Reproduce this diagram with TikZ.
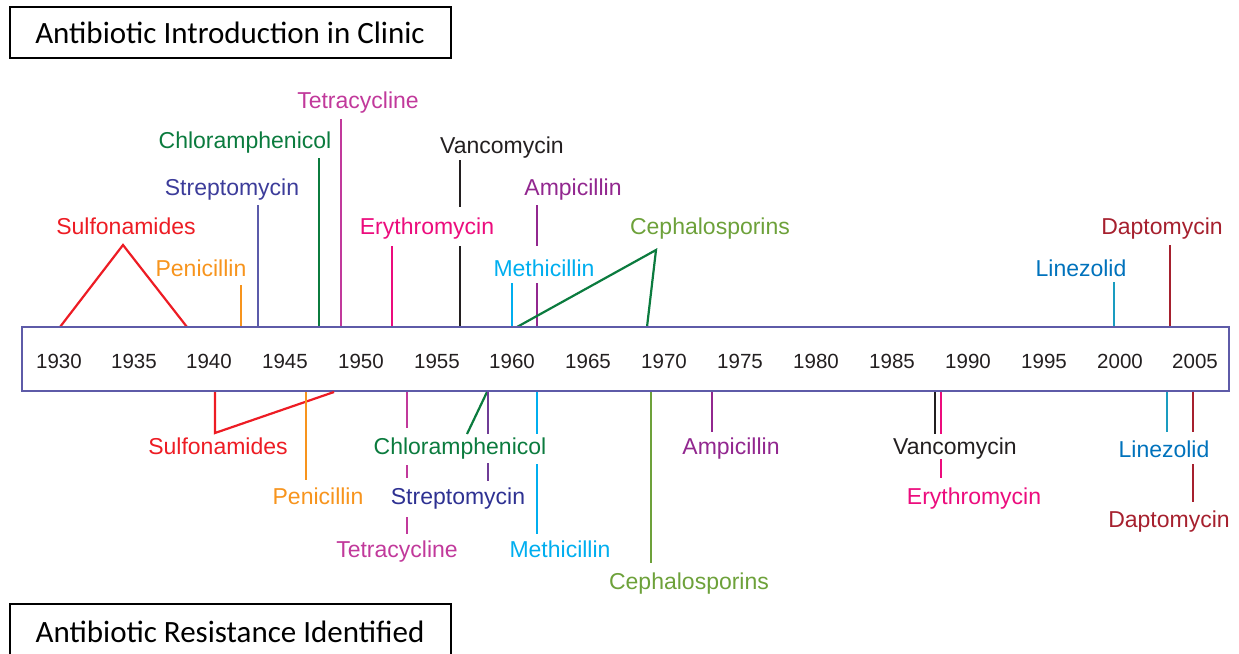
\documentclass[tikz,border=0pt]{standalone}
\usepackage{fontspec}
\setmainfont{Liberation Sans}
\newfontfamily\titlefont{Carlito}
\definecolor{cRed}{HTML}{ED1C24}
\definecolor{cOrange}{HTML}{F7941D}
\definecolor{cStrepLine}{HTML}{5B5BAA}
\definecolor{cStrepText}{HTML}{3C3C9A}
\definecolor{cStrepText2}{HTML}{2E3192}
\definecolor{cStrepLine2}{HTML}{6F3C96}
\definecolor{cGreen}{HTML}{0B7B3E}
\definecolor{cTetra}{HTML}{C1399B}
\definecolor{cEry}{HTML}{EC0C7D}
\definecolor{cVanc}{HTML}{231F20}
\definecolor{cAmp}{HTML}{92278F}
\definecolor{cMeth}{HTML}{00AEEF}
\definecolor{cCeph}{HTML}{6DA13A}
\definecolor{cLinText}{HTML}{0072BC}
\definecolor{cLinLine}{HTML}{1A9CC0}
\definecolor{cDapto}{HTML}{A6202E}
\definecolor{cBox}{HTML}{5E5BA8}
\begin{document}
\begin{tikzpicture}[x=1pt,y=-1pt,
  lbl/.style={inner sep=0pt,anchor=base,yshift=-8.3pt,font=\fontsize{23}{23}\selectfont},
  yr/.style={inner sep=0pt,anchor=base,yshift=-7.2pt,text=cVanc,font=\fontsize{20.5}{20.5}\selectfont},
  ttl/.style={inner sep=0pt,anchor=base,yshift=-10.5pt,font=\titlefont\fontsize{31}{31}\selectfont},
  tl/.style={line width=2.2pt},
  axisbox/.style={draw=cBox,line width=2.8pt,fill=white}]
\useasboundingbox (0,0) rectangle (1239,653);
% titles
\draw[line width=1.5pt] (10,7) rectangle (451,58);
\node[ttl] (t1) at (230,33) {Antibiotic Introduction in Clinic};
\draw[line width=1.5pt] (10,665) -- (10,604) -- (451,604) -- (451,665);
\node[ttl] (t2) at (230,632) {Antibiotic Resistance Identified};

% ---------- top: introduction ----------
\node[lbl,text=cRed] (sulT) at (126,226) {Sulfonamides};
\coordinate (sulA) at (123,245);
\draw[tl,cRed] (60,327) -- (sulA) -- (187,327);

\node[lbl,text=cOrange] (penT) at (201,268) {Penicillin};
\draw[tl,cOrange] (241,285) -- (241,327);

\node[lbl,text=cStrepText] (strT) at (232,187) {Streptomycin};
\draw[tl,cStrepLine] (258,205) -- (258,327);

\node[lbl,text=cGreen] (chlT) at (245,140) {Chloramphenicol};
\draw[tl,cGreen] (319,158) -- (319,327);

\node[lbl,text=cTetra] (tetT) at (358,100) {Tetracycline};
\draw[tl,cTetra] (341,119) -- (341,327);

\node[lbl,text=cEry] (eryT) at (427,226) {Erythromycin};
\draw[tl,cEry] (392,246) -- (392,327);

\node[lbl,text=cVanc] (vanT) at (502,145) {Vancomycin};
\draw[tl,cVanc] (460,160) -- (460,207);
\draw[tl,cVanc] (460,246) -- (460,327);

\node[lbl,text=cAmp] (ampT) at (573,187) {Ampicillin};
\draw[tl,cAmp] (537,205) -- (537,246);
\draw[tl,cAmp] (537,283) -- (537,327);

\node[lbl,text=cMeth] (metT) at (544,268) {Methicillin};
\draw[tl,cMeth] (512,283) -- (512,327);

\node[lbl,text=cCeph] (cepT) at (710,226) {Cephalosporins};
\coordinate (cepA) at (656,250);
\draw[tl,cGreen] (517,327) -- (cepA) -- (647,327);

\node[lbl,text=cLinText] (linT) at (1081,268) {Linezolid};
\draw[tl,cLinLine] (1114,282) -- (1114,327);

\node[lbl,text=cDapto] (dapT) at (1162,226) {Daptomycin};
\draw[tl,cDapto] (1170,245) -- (1170,327);

% ---------- timeline box ----------
\draw[axisbox] (22,327) rectangle (1229,391);
\foreach \y/\x in {1930/59,1935/134,1940/209,1945/285,1950/361,1955/437,1960/512,1965/588,1970/664,1975/740,1980/816,1985/892,1990/968,1995/1044,2000/1120,2005/1195}
  \node[yr] (y\y) at (\x,361) {\y};

% ---------- bottom: resistance ----------
\node[lbl,text=cRed] (sulB) at (218,446) {Sulfonamides};
\draw[tl,cRed] (215,392) -- (215,433) -- (334,392);

\node[lbl,text=cOrange] (penB) at (318,496) {Penicillin};
\draw[tl,cOrange] (306,392) -- (306,480);

\node[lbl,text=cTetra] (tetB) at (397,549) {Tetracycline};
\draw[tl,cTetra] (407,392) -- (407,428);
\draw[tl,cTetra] (407,465) -- (407,478);
\draw[tl,cTetra] (407,517) -- (407,534);

\node[lbl,text=cGreen] (chlB) at (460,446) {Chloramphenicol};
\draw[tl,cGreen] (487,392) -- (467,434);

\node[lbl,text=cStrepText2] (strB) at (458,496) {Streptomycin};
\draw[tl,cStrepLine2] (488,392) -- (488,434);
\draw[tl,cStrepLine2] (488,463) -- (488,481);

\node[lbl,text=cMeth] (metB) at (560,549) {Methicillin};
\draw[tl,cMeth] (537,392) -- (537,434);
\draw[tl,cMeth] (537,464) -- (537,534);

\node[lbl,text=cCeph] (cepB) at (689,581) {Cephalosporins};
\draw[tl,cCeph] (651,392) -- (651,563);

\node[lbl,text=cAmp] (ampB) at (731,446) {Ampicillin};
\draw[tl,cAmp] (712,392) -- (712,432);

\node[lbl,text=cVanc] (vanB) at (955,446) {Vancomycin};
\draw[tl,cVanc] (935,392) -- (935,434);

\node[lbl,text=cEry] (eryB) at (974,496) {Erythromycin};
\draw[tl,cEry] (941,392) -- (941,434);
\draw[tl,cEry] (941,459) -- (941,478);

\node[lbl,text=cLinText] (linB) at (1164,449) {Linezolid};
\draw[tl,cLinLine] (1167,392) -- (1167,432);

\node[lbl,text=cDapto] (dapB) at (1169,519) {Daptomycin};
\draw[tl,cDapto] (1193,392) -- (1193,432);
\draw[tl,cDapto] (1193,464) -- (1193,502);
\end{tikzpicture}
\end{document}
